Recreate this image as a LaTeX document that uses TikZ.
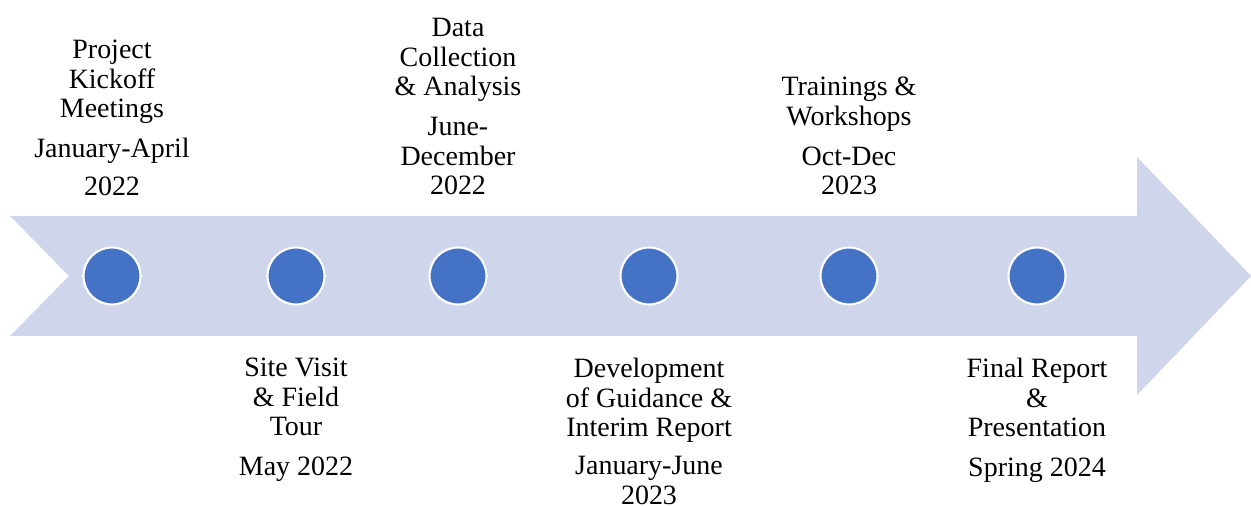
\documentclass[tikz,border=0pt]{standalone}
\usepackage{fontspec}
\setmainfont{Liberation Serif}
\usepackage{tkz-euclide}

\definecolor{bandcol}{RGB}{207,213,234}
\definecolor{dotcol}{RGB}{68,114,196}

\tikzset{
  stage/.style={circle,fill=dotcol,draw=white,line width=1.5pt,
    minimum size=1.425cm,inner sep=0pt},
  milestone/.style={align=center,inner sep=0pt,
    font=\fontsize{19.9}{21}\selectfont}
}

\begin{document}
\begin{tikzpicture}
            \useasboundingbox (0,0) rectangle (31.275,12.65);
            % outline of the band with its notch and head
            \tkzDefPoint(0.25,7.25){A}
            \tkzDefPoint(28.425,7.25){B}
            \tkzDefPoint(28.425,8.725){C}
            \tkzDefPoint(31.275,5.75){D}
            \tkzDefPoint(28.425,2.775){E}
            \tkzDefPoint(28.425,4.25){F}
            \tkzDefPoint(0.25,4.25){G}
            \tkzDefPoint(1.725,5.75){H}
            \fill[bandcol] (A) -- (B) -- (C) -- (D) -- (E) -- (F) -- (G) -- (H) -- cycle;
            % stages along the band
            \node[stage] (s1) at (2.8,5.75) {};
            \node[stage] (s2) at (7.4,5.75) {};
            \node[stage] (s3) at (11.45,5.75) {};
            \node[stage] (s4) at (16.225,5.75) {};
            \node[stage] (s5) at (21.225,5.75) {};
            \node[stage] (s6) at (25.925,5.75) {};
            % labels above
            \node[milestone,anchor=south] (kickoff) at (2.8,7.74)
                {Project\\Kickoff\\Meetings\\[7.5pt]January-April\\[6pt]2022};
            \node[milestone,anchor=south] (data) at (11.45,7.77)
                {Data\\Collection\\\& Analysis\\[7.5pt]June-\\December\\2022};
            \node[milestone,anchor=south] (train) at (21.225,7.77)
                {Trainings \&\\Workshops\\[7.5pt]Oct-Dec\\2023};
            % labels below
            \node[milestone,anchor=north] (site) at (7.4,3.7)
                {Site Visit\\\& Field\\Tour\\[7.5pt]May 2022};
            \node[milestone,anchor=north] (guide) at (16.225,3.7)
                {Development\\of Guidance \&\\Interim Report\\[6pt]January-June\\2023};
            \node[milestone,anchor=north] (final) at (25.925,3.7)
                {Final Report\\\&\\Presentation\\[7.5pt]Spring 2024};
\end{tikzpicture}
\end{document}
